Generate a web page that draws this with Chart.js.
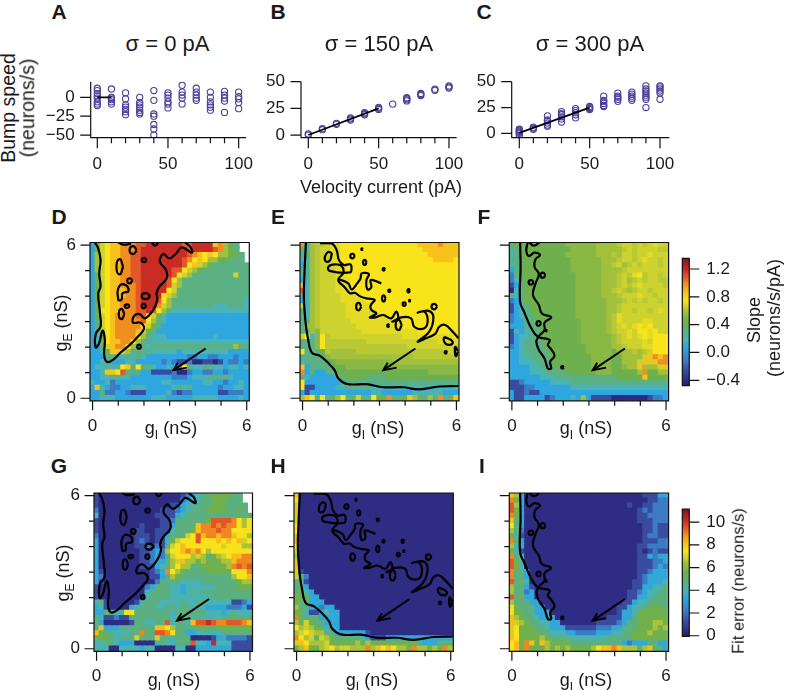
<!DOCTYPE html>
<html>
<head>
<meta charset="utf-8">
<title>Bump speed and slope maps</title>
<script src="https://cdn.jsdelivr.net/npm/chart.js@4/dist/chart.umd.js"></script>
<style>
body { margin: 0; background: #fff; font-family: "Liberation Sans", Arial, sans-serif; color: #1a1a1a; }
canvas { position: absolute; }
.t { position: absolute; white-space: nowrap; transform: translate(-50%, -50%); font-size: 18px; line-height: 1; }
.r { transform: translate(-50%, -50%) rotate(-90deg); }
.letter { font-size: 21px; font-weight: bold; }
.title { font-size: 22px; }
.big { font-size: 19.5px; }
.small { font-size: 16.5px; }
sub { font-size: 12px; line-height: 0; }
</style>
</head>
<body>
<script>
// velocity current sweep, panels A-C
var currents = [0, 10, 20, 30, 40, 50, 60, 70, 80, 90, 100];
var speedsA = [
  [12, 9, 5, 2, -1, -6, -9, -11],
  [11, 0, -1, -3, -6, -9],
  [6, -2, -10, -13, -16, -19, -23],
  [0, -7, -10, -13, -17, -20, -22],
  [9, -4, -22, -25, -36, -42, -50],
  [6, 3, -1, -6, -9, -14],
  [16, 7, 3, -1, -9],
  [12, 7, 3, -1, -4],
  [7, 0, -6, -10, -13, -17],
  [8, 3, -1, -5, -20],
  [7, 1, -2, -7, -15]
];
var speedsB = [
  [0, 1], [5, 6], [10, 11], [14, 15, 16], [19, 20, 21], [24, 25, 26],
  [29], [32, 33, 34, 35], [37, 38, 39], [42, 43], [44, 45, 46]
];
var speedsC = [
  [-2, 0, 1, 2, 3, 4], [4, 5, 6], [7, 8, 10, 12, 13, 17], [11, 14, 16, 18, 19, 21],
  [15, 18, 20, 22, 24], [23, 24, 25, 26], [26, 27, 29, 31, 32, 36], [31, 33, 35, 36, 39],
  [32, 34, 36, 38, 40], [25, 33, 35, 37, 39, 41, 43, 46], [33, 39, 41, 43, 45, 46]
];
var fitA = [[0, 0], [10, 0]];
var fitB = [[0, 0], [50, 25]];
var fitC = [[0, 0.5], [50, 25]];

var currentTicks = [0, 10, 20, 30, 40, 50, 60, 70, 80, 90, 100];
var currentMajor = [0, 50, 100];
var speedTicksA = [0, -25, -50];
var speedTicksB = [0, 25, 50];

// conductance grid, rows below run from gE = 6 down to 0
var conductance = [0, 0.2, 0.4, 0.6, 0.8, 1, 1.2, 1.4, 1.6, 1.8, 2, 2.2, 2.4, 2.6, 2.8, 3, 3.2, 3.4, 3.6, 3.8, 4, 4.2, 4.4, 4.6, 4.8, 5, 5.2, 5.4, 5.6, 5.8, 6];
var gTicks = [0, 1, 2, 3, 4, 5, 6];
var gMajor = [0, 6];

// one char per cell, position in levelCodes picks the value, '.' = no data
var levelCodes = '0123456g7h8i9abcde';
var slopeLevels = [-0.41, -0.26, -0.11, 0.07, 0.18, 0.29, 0.44, 0.51, 0.58, 0.62, 0.66, 0.705, 0.75, 0.86, 0.99, 1.08, 1.19, 1.30];
var errorLevels = [0.45, 1.3, 2.2, 3.4, 4.0, 4.7, 5.6, 6.05, 6.5, 6.7, 6.9, 7.2, 7.5, 8.2, 9.0, 9.5, 10.2, 10.9];

var slopeSigma0 = [
"3689aabbbccdddddddccddddab765..",
"3689aabbbcdddddddddcddddcb765..",
"3789aabbccdddddddddcba9a977665.",
"3789aabbccddddddddcb9a97766555.",
"3789aabbccddddddddc9a8765555555",
"3789aabbccddddddcc9876555555555",
"3689aabbccddddddc98755555555855",
"3689aabbccdddddc975555555555555",
"3689aabbbcdddddc875555555555555",
"3689aaabbcddddd9855555555555555",
"3689aaabbcdddd98755555555555555",
"3689aabbbcdddc97555555555555554",
"3689aabbbcdddb87555555554445554",
"3699aabbbccdc975444444444444444",
"3689abbbbcc98643333333333333333",
"3589abbbbbc97543333333333333333",
"3589abbbbb986533333333333333333",
"3479abbbba865333333333333333333",
"3469abbbb9754443333333334333333",
"3469aabb97554444444444444444444",
"3358abb975545555555555555555755",
"3346aa8755554444434444444443333",
"3335544545433333333223322333233",
"3344333443333323211200110132232",
"3445459a59554334339544554434434",
"334aa9c555331111200233223323333",
"3344554433333333222344455554333",
"4334233333333344333333443323343",
"3a43223344433333454533333233443",
"3352233211133334212233333112223",
"3344433333334443333344444333343"
];
var slopeSigma150 = [
"b47hh8ii99 9999999999 999aaaabaa a",
"547h88ii99 9999999999 9999aaaaaa a",
"557h88ii99 9999999999 99999aaaaa a",
"447h88ii99 9999999999 999999aaaa 9",
"357h88iii9 9999999999 9999999999 9",
"547h888ii9 9999999999 9999999999 9",
"457h888ii9 9999999999 9999999999 9",
"347h888iii 9999999999 9999999999 9",
"a47h888iii 9999999999 9999999999 9",
"c47h888iii i999999999 9999999999 9",
"547h8888ii ii99999999 9999999999 9",
"347h8888ii iii9999999 9999999999 9",
"847h88888i iiii999999 9999999999 9",
"547h88888i iiiii99999 9999999999 9",
"547h88888i iiiiiii999 9999999999 9",
"557h888888 iiiiiiiii9 9999999999 9",
"577h888888 8iiiiiiiii 9999999999 9",
"547g888888 88iiiiiiii iii9999999 9",
"894g9h8888 8888888888 iiiiiiiiii 9",
"545g9hhhhh hhh8888888 8888888iii i",
"555g9hhhhh hhhhhhhhhh h888888888 8",
"95556h7777 7hhhhhhhhh hhhhhhhh88 8",
"55555g7777 7777777777 77hhhhhhhh h",
"4555556ggg gggggggg77 7777777777 7",
"a35555666g gggggggggg gggggggggg g",
"b353355666 6666666666 66666ggggg g",
"5433333556 6665555666 6666666666 6",
"9333333355 5555555555 5555555555 5",
"9113333445 5555444444 4444444444 4",
"3133333333 3333443333 3344444433 3",
"7a95946795 6855966b55 6a76575b56 a"
];
var slopeSigma300 = [
"5666666666 6gggggg777 7h88h8h8i8 8",
"5566666666 66ggggg777 77h8h8888h h",
"4566666666 6gggggg777 h788h88i88 8",
"5566666666 66gggggg77 7h88h8i88h 8",
"4556666666 66gggggg77 h87h8h888h 8",
"3566666666 66gggggg77 77h8888888 8",
"2566666666 666ggggg77 7h8hi9h88h 8",
"2456666666 666ggggg77 7h87h8h88h h",
"1356666666 666ggggg77 7h8h8i8888 h",
"0456666666 666ggggg77 h8h7h88h88 8",
"5456666666 666ggggg77 7h888i88h8 8",
"2356666666 666gggggg7 77h8h8h88h 8",
"1355666666 666gggggg7 7h88888888 8",
"1345666666 666gggggg7 7h88h88h8i 8",
"2345566666 666gggggg7 hi88888888 8",
"2335566666 6666ggggg7 hi8888ii88 8",
"3335556666 6666ggggg7 h8i8i9i988 8",
"1434556666 6666ggggg7 h88i899i98 8",
"1344556666 6666gggggg 7h8i8i9i99 9",
"1345555666 6666gggggg 7h8888i899 9",
"2345555666 66666ggggg 77h888ii99 9",
"3345555566 66666ggggg 6777h7h899 9",
"3344555566 666666gggg 6677778aba b",
"3344455566 666666gggg 667778a8ab b",
"3333445556 666666gggg 66g77a7778 a",
"3333444555 5666666ggg 666667b667 7",
"3333334445 5555555555 566666a666 6",
"1123333344 4455555555 5555555555 5",
"1112233333 3344444444 4444444444 4",
"3112113333 3333333333 3333333333 3",
"3113333123 3343731111 0000000122 3"
];
var errorSigma0 = [
"1000000000 0000000123 455666655. .",
"1000000000 0000000234 455666555. .",
"1000000000 0000011344 5556665555 .",
"2000000000 0001112345 5566665565 .",
"4000000000 0011113455 5555555555 5",
"1000000000 0001125555 556ccccb97 9",
"1000000001 0001135555 abbcbcbb97 9",
"1000000011 0011145556 abbbcbb999 9",
"2000000011 1011355589 cabbabba99 7",
"3000000012 1011468999 c999a9a9a8 9",
"3000000011 2121589a99 9999989997 7",
"3000000001 1232799aba b979999999 9",
"3000000001 1232589997 8756789aab b",
"3000000001 1233578a77 6766677abb b",
"3000000001 1134579775 5666667bcb c",
"3100000000 0123b97655 5566666999 b",
"3200000000 0113576555 5555555799 a",
"3100000000 0025555444 4555555567 7",
"1000000000 2355544344 4444555566 6",
"1000000000 4555544345 4555555555 5",
"1000000000 4555544444 4445555555 5",
"4510000014 5554444544 5544444112 3",
"3410000345 5544554554 4433332223 1",
"3355449955 5555545555 5544434544 4",
"5411211555 5555544554 5444455555 5",
"5300000155 4455c4554a ccdcbbcccb a",
"5a33355555 55aa975555 6665666666 6",
"a65544455b 55ccb95533 4444455555 5",
"6665455585 5585545550 0001332222 1",
"4455433300 004544555c 443d444111 1",
"4440044443 4400004400 3333333111 1"
];
var errorSigma150 = [
"a000000000000000000000000000000",
"9000000000000000000000000000000",
"8000000000000000000000000000000",
"a000000000000000000000000000000",
"8000000000000000000000000000000",
"8000000000000000000000000000000",
"9000000000000000000000000000000",
"9000000000000000000000000000000",
"8000000000000000000000000000000",
"a000000000000000000000000000000",
"9000000000000000000000000000000",
"8000000000000000000000000000000",
"7000000000000000000000000000000",
"8000000000000000000000000000000",
"a000000000000000000000000000000",
"8100000000000000000000000000000",
"8520000000000000000000000000000",
"5510000000000000000000000000000",
"5530000000000000000000000000000",
"5643000000000000000000000000000",
"6663300000000000000000000000000",
"6553330000000000000000000000000",
"7553323300000000000000000000000",
"6641134330000000000000000000000",
"b555533330000000000000000000000",
"7686553330000000000000000000000",
"9787654330000000000000000000000",
"7898775533333310000000000000000",
"b978687655555431113333333333333",
"8a97778666667676666666665333555",
"67a66789788777b7a9a9776b77676b7"
];
var errorSigma300 = [
"a730000000000000000000000011133",
"b630000000000000000000000001122",
"c730000000000000000000010011222",
"c630000000000000000000000121222",
"b630000000000000000000000112222",
"a530000000000000000000000111222",
"9530000000000000000000000011211",
"7520000000000000000000000011211",
"6410000000000000000000000012211",
"b530000000000000000000000011122",
"7430000000000000000000000112222",
"6410000000000000000000000101211",
"b540000000000000000000000113233",
"c640000000000000000000000111223",
"c640000000000000000000000111232",
"b553000000000000000000000112333",
"b553000000000000000000000123333",
"c564000000000000000000001123334",
"7553100000000000000000001133445",
"7552300000000000000000011234455",
"c563300000000000000000011334555",
"7555330000000000000000113445555",
"9655533000000000000001134456665",
"9665533300000000000001334666666",
"a765543330000000000111335666666",
"a876554433000000011112355666776",
"a966655433311111122233555666767",
"8966665544433222233344556667666",
"a966667655554444444555556666666",
"9a6ba6a766665555555555323335533",
"9a6b66676767666679aaba77757a553"
];

// contour lines in nS, flat gI,gE pairs
var contoursSigma0 = [
  [0.09,6.1, 0.22,5.87, 0.31,5.41, 0.26,4.89, 0.31,4.37, 0.22,4.11, 0.29,3.32, 0.31,2.8, 0.13,2.54, 0.12,1.99, 0.25,2.15, 0.39,2.65, 0.48,2.28, 0.45,1.69, 0.57,1.42, 0.83,1.53, 1.09,1.79, 1.45,2.09, 1.74,2.39, 2,2.72, 1.87,2.96, 1.58,2.96, 1.61,3.22, 1.82,3.3, 2.04,3.13, 2.36,3.46, 2.52,3.85, 2.49,4.11, 2.6,4.37, 2.88,4.69, 2.86,5.02, 2.62,5.35, 2.75,5.65, 2.99,5.48, 3.25,5.67, 3.47,5.91, 3.86,5.7, 3.82,5.91, 3.6,6.1],
  [2.3,6.1, 2.43,5.98, 2.56,6.1],
  [1,6.1, 1.2,6.02, 1.5,6.05],
  [1.72,5.8, 1.58,5.96, 1.44,5.8, 1.58,5.65, 1.72,5.8],
  [2.11,5.41, 2.01,5.49, 1.91,5.41, 2.01,5.33, 2.11,5.41],
  [1.19,5.15, 1.06,5.45, 0.93,5.15, 1.06,4.85, 1.19,5.15],
  [1.55,4.6, 1.45,4.7, 1.35,4.6, 1.45,4.5, 1.55,4.6],
  [1,3.82, 1,4.3, 1.22,4.46, 1.4,4.2, 1.17,4.11, 1.13,3.87, 1,3.82],
  [2.25,4, 2.08,4.12, 1.91,4, 2.08,3.88, 2.25,4],
  [1.45,3.61, 1.35,3.68, 1.25,3.61, 1.35,3.54, 1.45,3.61],
  [2.09,3.61, 2,3.7, 1.91,3.61, 2,3.52, 2.09,3.61],
  [1.24,3.3, 1.13,3.5, 1.02,3.3, 1.13,3.1, 1.24,3.3],
  [1.9,2.02, 1.82,2.1, 1.74,2.02, 1.82,1.94, 1.9,2.02]
];
var contoursSigma150 = [
  [0.13,6.1, 0.08,5.02, 0.05,3.98, 0.12,2.93, 0.21,2.35, 0.36,1.79, 0.68,1.66, 1.01,1.37, 1.26,1.08, 1.39,0.78, 1.72,0.56, 2.49,0.55, 3.14,0.43, 3.91,0.43, 4.55,0.35, 5.33,0.46, 6.08,0.48],
  [0.68,6.07, 1.14,6.06, 1.33,5.8, 1.42,5.41, 1.61,5.22, 1.85,5.25, 1.91,5.12, 1.85,4.93, 1.05,4.99, 1.01,5.15, 1.26,5.24, 1.52,5.18, 1.59,4.92, 1.39,4.63, 1.65,4.34, 1.85,4.11, 2.04,4.13, 2.23,4, 2.49,3.91, 2.81,3.85, 2.66,3.65, 2.68,3.46, 2.88,3.32, 2.62,3.17, 2.85,3.17, 3.14,3.26, 3.46,3.13, 3.65,3.39, 3.72,3.13, 3.5,3, 3.85,3.17, 4.23,3.13, 4.36,2.8, 4.75,2.74, 4.88,3.06, 4.75,3.39, 4.49,3.35, 4.92,3.42, 5.1,3.17, 4.94,2.61, 4.49,2.22, 4.81,2.35, 5.17,2.52, 5.33,2.8, 5.56,2.87, 5.85,2.61, 6.08,2.35],
  [1.39,4.67, 1.78,4.5, 1.91,4.26, 2.13,4.5, 2.26,4.69, 2.3,4.89, 2.59,4.86, 2.49,4.63, 2.53,4.26, 2.68,4.34, 2.66,4.63, 3.07,4.5],
  [5.52,2.41, 5.85,2.22, 5.72,2.09, 5.52,2.22, 5.52,2.41],
  [1.15,5.68, 0.98,5.72, 0.87,5.42, 1.04,5.37, 1.15,5.68],
  [2.04,5.57, 1.95,5.66, 1.86,5.57, 1.95,5.48, 2.04,5.57],
  [2.35,5.84, 2.32,5.87, 2.29,5.84, 2.32,5.81, 2.35,5.84],
  [2.5,5.32, 2.43,5.42, 2.36,5.32, 2.43,5.22, 2.5,5.32],
  [3.22,5.05, 3.17,5.1, 3.12,5.05, 3.17,5, 3.22,5.05],
  [3.44,4.21, 3.39,4.26, 3.34,4.21, 3.39,4.16, 3.44,4.21],
  [4.19,4.21, 4.14,4.27, 4.09,4.21, 4.14,4.15, 4.19,4.21],
  [3.24,3.91, 3.17,4.03, 3.1,3.91, 3.17,3.79, 3.24,3.91],
  [4.04,3.69, 3.97,3.76, 3.9,3.69, 3.97,3.62, 4.04,3.69],
  [4.21,3.82, 4.18,3.85, 4.15,3.82, 4.18,3.79, 4.21,3.82],
  [2.29,3.59, 2.19,3.74, 2.09,3.59, 2.19,3.44, 2.29,3.59],
  [5.25,3.59, 5.14,3.7, 5.03,3.59, 5.14,3.48, 5.25,3.59],
  [3.87,2.87, 3.75,3.07, 3.63,2.87, 3.75,2.67, 3.87,2.87],
  [3.38,2.84, 3.34,2.89, 3.3,2.84, 3.34,2.79, 3.38,2.84],
  [5.64,1.8, 5.59,1.85, 5.54,1.8, 5.59,1.75, 5.64,1.8],
  [6.06,1.83, 5.96,2.01, 5.94,1.83, 5.98,1.65, 6.06,1.83]
];
var contoursSigma300 = [
  [0.32,6.1, 0.34,5.15, 0.32,3.78, 0.49,3.35, 0.69,2.87, 0.88,2.54, 1.01,2.39, 0.95,2.22, 1.05,1.89, 1.27,1.56, 1.4,1.17, 1.53,1.17, 1.49,1.43, 1.66,1.66, 1.53,1.92, 1.4,2.09, 1.47,2.28, 1.05,2.41, 1.27,2.67, 1.27,2.96, 1.53,3.17, 1.17,3.32, 1.05,3.65, 0.82,4.04, 0.92,4.5, 1.05,4.86, 0.88,5.15, 0.92,5.44, 1.1,5.61, 0.88,5.7, 0.66,5.57, 0.56,5.8, 0.62,6.1],
  [0.69,6.1, 0.85,5.98, 1.08,6.1],
  [1.31,4.82, 1.21,4.92, 1.11,4.82, 1.21,4.72, 1.31,4.82],
  [0.85,4.54, 0.75,4.63, 0.65,4.54, 0.75,4.45, 0.85,4.54],
  [1.14,2.93, 1.05,3.02, 0.96,2.93, 1.05,2.84, 1.14,2.93],
  [1.37,2.65, 1.34,2.68, 1.31,2.65, 1.34,2.62, 1.37,2.65],
  [2.02,1.21, 1.97,1.26, 1.92,1.21, 1.97,1.16, 2.02,1.21]
];
var arrowShaft = [[4.4, 1.95], [3.15, 1.1]];
var arrowHead = [[3.32, 1.39], [3.15, 1.1], [3.67, 1.2]];

// colour bar ranges and ticks
var slopeRange = [-0.478, 1.354];
var slopeTicks = [-0.4, 0, 0.4, 0.8, 1.2];
var errorRange = [-0.05, 11.15];
var errorTicks = [0, 2, 4, 6, 8, 10];

// colour stops, bottom to top
var stopPos = [0, 0.04, 0.12, 0.2, 0.3, 0.36, 0.42, 0.5, 0.58, 0.62, 0.67, 0.73, 0.8, 0.85, 0.91, 0.97, 1];
var stopCol = ['#241f66', '#2e2a82', '#3a4ca0', '#3b7cc4', '#2ea6df', '#49b3b4', '#5bb083', '#6db04e', '#a5c03b', '#cdd22e', '#f9e41c', '#f8c21c', '#f0901f', '#e3582a', '#c92b25', '#9c1c1f', '#7a1618'];

function hexRgb(h) {
  return [parseInt(h.substr(1, 2), 16), parseInt(h.substr(3, 2), 16), parseInt(h.substr(5, 2), 16)];
}

function colourAt(t) {
  for (var i = 1; i < stopPos.length; i++) {
    if (t <= stopPos[i]) {
      var f = (t - stopPos[i - 1]) / (stopPos[i] - stopPos[i - 1]);
      var a = hexRgb(stopCol[i - 1]), b = hexRgb(stopCol[i]);
      return 'rgb(' + Math.round(a[0] + (b[0] - a[0]) * f) + ',' + Math.round(a[1] + (b[1] - a[1]) * f) + ',' + Math.round(a[2] + (b[2] - a[2]) * f) + ')';
    }
  }
  return stopCol[stopCol.length - 1];
}

// ticks + axis lines: Chart.js has one tick length per scale, here they differ
var axisMarks = {
  id: 'axisMarks',
  afterDraw: function(chart, args, o) {
    var ctx = chart.ctx, area = chart.chartArea;
    ctx.save();
    ctx.strokeStyle = '#111';
    ctx.lineWidth = 1.2;
    ctx.beginPath();
    if (o.frame) {
      ctx.rect(area.left, area.top, area.right - area.left, area.bottom - area.top);
    } else {
      ctx.moveTo(area.left, area.top);
      ctx.lineTo(area.left, area.bottom);
      ctx.lineTo(area.right, area.bottom);
    }
    ['x', 'y'].forEach(function(id) {
      var scale = chart.scales[id];
      if (!scale.options.display) return;
      scale.ticks.forEach(function(t) {
        var p = scale.getPixelForValue(t.value);
        var len = t.major ? o.long : o.short;
        if (id == 'x') {
          ctx.moveTo(p, area.bottom);
          ctx.lineTo(p, area.bottom + len);
        } else if (scale.position == 'right') {
          ctx.moveTo(area.right, p);
          ctx.lineTo(area.right + len, p);
        } else {
          ctx.moveTo(area.left, p);
          ctx.lineTo(area.left - len, p);
        }
      });
    });
    ctx.stroke();
    ctx.restore();
  }
};

function tickSetter(values, major) {
  return function(scale) {
    scale.ticks = values.map(function(v) {
      return { value: v, major: major.indexOf(v) >= 0 };
    });
  };
}

function axis(opts) {
  return {
    type: 'linear',
    position: opts.position,
    min: opts.range[0],
    max: opts.range[1],
    border: { display: false },
    grid: { display: false, drawTicks: false },
    afterBuildTicks: tickSetter(opts.ticks, opts.major),
    afterFit: function(scale) {
      if (opts.position == 'bottom') scale.height = opts.size; else scale.width = opts.size;
      // ticks.padding would otherwise eat into the chart area
      scale.paddingTop = scale.paddingBottom = scale.paddingLeft = scale.paddingRight = 0;
    },
    ticks: {
      autoSkip: false,
      maxRotation: 0,
      padding: opts.pad,
      color: '#1a1a1a',
      font: { family: '"Liberation Sans"', size: 17 },
      callback: function(v) {
        if (opts.showLabels === false || opts.major.indexOf(v) < 0) return '';
        return opts.format ? opts.format(v) : String(v);
      }
    }
  };
}

// box = wanted chart area in page pixels
function place(box, type, data, scales, marks) {
  var left = 60, top = 10, right = 70, bottom = 45;
  var canvas = document.createElement('canvas');
  var cx = Math.floor(box.l - left), cy = Math.floor(box.t - top);
  canvas.style.left = cx + 'px';
  canvas.style.top = cy + 'px';
  canvas.width = Math.ceil(box.w + left + right);
  canvas.height = Math.ceil(box.h + top + bottom);
  document.body.appendChild(canvas);
  var yRight = scales.y.position == 'right';
  return new Chart(canvas, {
    type: type,
    data: data,
    plugins: [axisMarks],
    options: {
      responsive: false,
      animation: false,
      events: [],
      layout: {
        autoPadding: false,
        padding: {
          left: yRight ? box.l - cx : box.l - left - cx,
          top: box.t - cy,
          right: canvas.width - (box.l - cx) - box.w - (yRight ? 65 : 0),
          bottom: canvas.height - (box.t - cy) - box.h - (scales.x.display === false ? 0 : bottom)
        }
      },
      scales: scales,
      plugins: { legend: { display: false }, tooltip: { enabled: false }, axisMarks: marks }
    }
  });
}

function speedPanel(box, speeds, fit, xRange, yRange, yTicks, fmt) {
  var pts = [];
  speeds.forEach(function(list, i) {
    list.forEach(function(v) { pts.push({ x: currents[i], y: v }); });
  });
  place(box, 'scatter', {
    datasets: [
      { data: fit.map(function(p) { return { x: p[0], y: p[1] }; }), showLine: true, borderColor: '#000', borderWidth: 1.8, pointRadius: 0, order: 1 },
      { data: pts, pointRadius: 3.1, pointBorderWidth: 1.1, pointBorderColor: '#4b3f98', pointBackgroundColor: 'rgba(0,0,0,0)', order: 2 }
    ]
  }, {
    x: axis({ position: 'bottom', range: xRange, ticks: currentTicks, major: currentMajor, size: 45, pad: 16 }),
    y: axis({ position: 'left', range: yRange, ticks: yTicks, major: yTicks, size: 60, pad: 16, format: fmt })
  }, { frame: false, long: 10.5, short: 5.5 });
}

function cells(rows, levels, range) {
  var pts = [], cols = [];
  rows.forEach(function(row, r) {
    for (var c = 0; c < 31; c++) {
      var ch = row.charAt(c);
      if (ch == '.' || ch == '') continue;
      var v = levels[levelCodes.indexOf(ch)];
      pts.push({ x: conductance[c], y: conductance[30 - r], v: v });
      cols.push(colourAt((v - range[0]) / (range[1] - range[0])));
    }
  });
  return { pts: pts, cols: cols };
}

function linePts(flat) {
  var out = [];
  for (var i = 0; i < flat.length; i += 2) out.push({ x: flat[i], y: flat[i + 1] });
  return out;
}

function heatPanel(box, rows, levels, range, contours, showY) {
  var c = cells(rows, levels, range);
  var sets = [{ data: c.pts, pointStyle: 'rect', pointRadius: 4.5, pointBorderWidth: 0, pointBackgroundColor: c.cols, order: 10 }];
  contours.forEach(function(flat) {
    sets.push({ data: linePts(flat), showLine: true, borderColor: '#000', borderWidth: 2.2, tension: flat.length <= 14 ? 0.6 : 0.4, pointRadius: 0, order: 2 });
  });
  [arrowShaft, arrowHead].forEach(function(a) {
    sets.push({ data: a.map(function(p) { return { x: p[0], y: p[1] }; }), showLine: true, borderColor: '#000', borderWidth: 2, pointRadius: 0, order: 1 });
  });
  place(box, 'scatter', { datasets: sets }, {
    x: axis({ position: 'bottom', range: [-0.1, 6.1], ticks: gTicks, major: gMajor, size: 45, pad: 15 }),
    y: axis({ position: 'left', range: [-0.1, 6.1], ticks: gTicks, major: gMajor, size: 60, pad: 14, showLabels: showY })
  }, { frame: true, long: 9.5, short: 5 });
}

function colourBar(box, range, ticks, fmt) {
  var scales = {
    x: { type: 'category', display: false, grid: { display: false } },
    y: axis({ position: 'right', range: range, ticks: ticks, major: ticks, size: 65, pad: 17, format: fmt })
  };
  place(box, 'bar', {
    labels: [''],
    datasets: [{
      data: [range],
      barPercentage: 1,
      categoryPercentage: 1,
      backgroundColor: function(ctx) {
        var s = ctx.chart.scales.y;
        var y0 = s ? s.getPixelForValue(range[0]) : NaN, y1 = s ? s.getPixelForValue(range[1]) : NaN;
        if (!isFinite(y0) || !isFinite(y1)) return stopCol[1];
        var g = ctx.chart.ctx.createLinearGradient(0, y0, 0, y1);
        stopPos.forEach(function(p, i) { g.addColorStop(p, stopCol[i]); });
        return g;
      }
    }]
  }, scales, { frame: true, long: 10, short: 10 });
}

function minus(v) { return v < 0 ? '\u2212' + Math.abs(v) : String(v); }
function minusFixed(v) { return v < 0 ? '\u2212' + Math.abs(v).toFixed(1) : v.toFixed(1); }

// spaces in the rows are only there to help counting
[slopeSigma150, slopeSigma300, errorSigma0].forEach(function(rows) {
  rows.forEach(function(r, i) { rows[i] = r.replace(/ /g, ''); });
});

speedPanel({ l: 90.7, t: 81.7, w: 155.3, h: 56 }, speedsA, fitA, [-4.67, 105.2], [-53.5, 20.7], speedTicksA, minus);
speedPanel({ l: 301, t: 81.7, w: 155.7, h: 56 }, speedsB, fitB, [-5.2, 105.5], [-2.5, 50], speedTicksB, minus);
speedPanel({ l: 511.7, t: 81.7, w: 157.6, h: 56 }, speedsC, fitC, [-5.4, 106.6], [-4.2, 50], speedTicksB, minus);

heatPanel({ l: 90, t: 242.5, w: 159.3, h: 158.3 }, slopeSigma0, slopeLevels, slopeRange, contoursSigma0, true);
heatPanel({ l: 300, t: 242.5, w: 159, h: 158.3 }, slopeSigma150, slopeLevels, slopeRange, contoursSigma150, false);
heatPanel({ l: 509.3, t: 242.5, w: 159.3, h: 158.3 }, slopeSigma300, slopeLevels, slopeRange, contoursSigma300, false);
heatPanel({ l: 94, t: 493, w: 158.5, h: 158.3 }, errorSigma0, errorLevels, errorRange, contoursSigma0, true);
heatPanel({ l: 294, t: 493, w: 159.3, h: 158.3 }, errorSigma150, errorLevels, errorRange, contoursSigma150, false);
heatPanel({ l: 509.3, t: 493, w: 159.3, h: 158.3 }, errorSigma300, errorLevels, errorRange, contoursSigma300, false);

colourBar({ l: 682.3, t: 258.3, w: 7, h: 127.4 }, slopeRange, slopeTicks, minusFixed);
colourBar({ l: 682.3, t: 509, w: 7, h: 127.3 }, errorRange, errorTicks, minus);

var texts = [
  ['A', 59, 11, 'letter'], ['B', 278, 11, 'letter'], ['C', 484, 11, 'letter'],
  ['D', 59, 216, 'letter'], ['E', 278, 216, 'letter'], ['F', 484, 216, 'letter'],
  ['G', 59, 465, 'letter'], ['H', 278, 465, 'letter'], ['I', 482, 465, 'letter'],
  ['\u03c3 = 0 pA', 167.5, 44, 'title'], ['\u03c3 = 150 pA', 379, 44, 'title'], ['\u03c3 = 300 pA', 590, 44, 'title'],
  ['Velocity current (pA)', 381, 187, ''],
  ['Bump speed', 9, 108, 'r big'], ['(neurons/s)', 28, 108, 'r big'],
  ['g<sub>I</sub> (nS)', 171, 428, ''], ['g<sub>I</sub> (nS)', 378, 428, ''], ['g<sub>I</sub> (nS)', 586, 428, ''],
  ['g<sub>I</sub> (nS)', 174, 680, ''], ['g<sub>I</sub> (nS)', 372, 680, ''], ['g<sub>I</sub> (nS)', 586, 680, ''],
  ['g<sub>E</sub> (nS)', 61, 323, 'r'], ['g<sub>E</sub> (nS)', 63, 573, 'r'],
  ['Slope', 754, 320, 'r'], ['(neurons/s/pA)', 774, 318, 'r'],
  ['Fit error (neurons/s)', 738, 581, 'r small']
];
texts.forEach(function(t) {
  var el = document.createElement('div');
  el.className = 't ' + t[3];
  el.innerHTML = t[0];
  el.style.left = t[1] + 'px';
  el.style.top = t[2] + 'px';
  document.body.appendChild(el);
});
</script>
</body>
</html>
